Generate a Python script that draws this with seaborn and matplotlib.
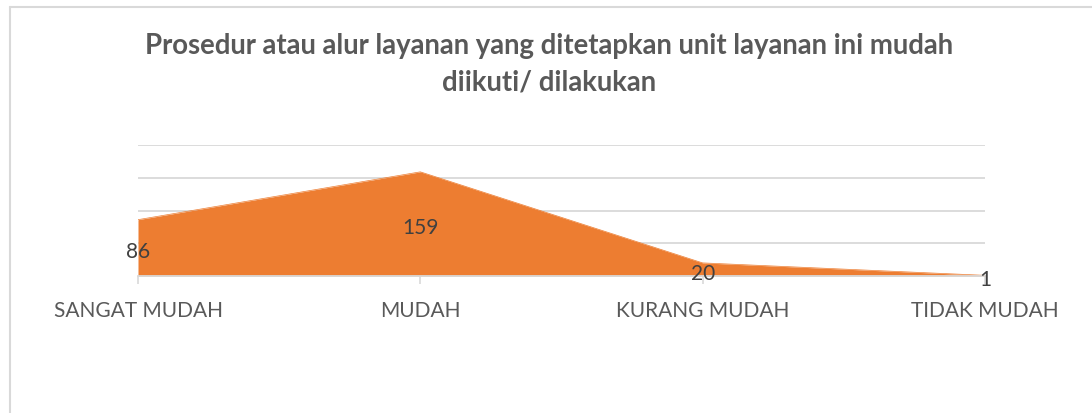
import matplotlib
matplotlib.use("Agg")
import matplotlib.pyplot as plt
import seaborn as sns
import pandas as pd
from matplotlib.lines import Line2D

categories = ["SANGAT MUDAH", "MUDAH", "KURANG MUDAH", "TIDAK MUDAH"]
values = [86, 159, 20, 1]
title = "Prosedur atau alur layanan yang ditetapkan unit layanan ini mudah\ndiikuti/ dilakukan"

sns.set_theme(style="white")
plt.rcParams['font.family'] = ['Lato', 'DejaVu Sans']

orange = "#ED7D31"
grid_c = "#D9D9D9"
text_c = "#595959"

df = pd.DataFrame({"cat": categories, "val": values, "x": range(len(categories))})

fig = plt.figure(figsize=(10.92, 4.13), dpi=100)
ax = fig.add_axes([138/1092, 137/413, (985-138)/1092, (276-145)/413])

sns.lineplot(data=df, x="x", y="val", ax=ax, color=orange, linewidth=0.5)
ax.fill_between(df["x"], 0, df["val"], color=orange, linewidth=0)

ax.set_xlim(0, len(categories) - 1)
ax.set_ylim(0, 200)
ax.set_yticks([50, 100, 150, 200])
ax.yaxis.grid(True, color=grid_c, linewidth=1.3)
ax.set_axisbelow(True)
ax.tick_params(axis='y', left=False, labelleft=False)
ax.set_xticks(df["x"])
ax.set_xticklabels(categories, fontsize=15, color=text_c)
ax.tick_params(axis='x', bottom=True, length=6, width=1.2, color=grid_c, pad=12)
for s in ["top", "right", "left"]:
    ax.spines[s].set_visible(False)
ax.spines["bottom"].set_color(grid_c)
ax.spines["bottom"].set_linewidth(1.3)
ax.set_xlabel("")
ax.set_ylabel("")

for xi, v in zip(df["x"], df["val"]):
    ax.annotate(str(v), (xi, v / 2), xytext=(0, -3), textcoords="offset points",
                ha="center", va="center", fontsize=15, color="#404040",
                annotation_clip=False, zorder=5)

fig.text(549/1092, 1 - 64/413, title, ha="center", va="center", fontsize=19.8,
         fontweight="bold", color=text_c, linespacing=1.5)

# chart border (left & top)
fig.add_artist(Line2D([10/1092, 10/1092], [0, 1 - 7/413], color=grid_c, linewidth=1.5,
                      transform=fig.transFigure))
fig.add_artist(Line2D([10/1092, 1], [1 - 7/413, 1 - 7/413], color=grid_c, linewidth=1.5,
                      transform=fig.transFigure))

fig.savefig("out.png", dpi=100, facecolor="white")
